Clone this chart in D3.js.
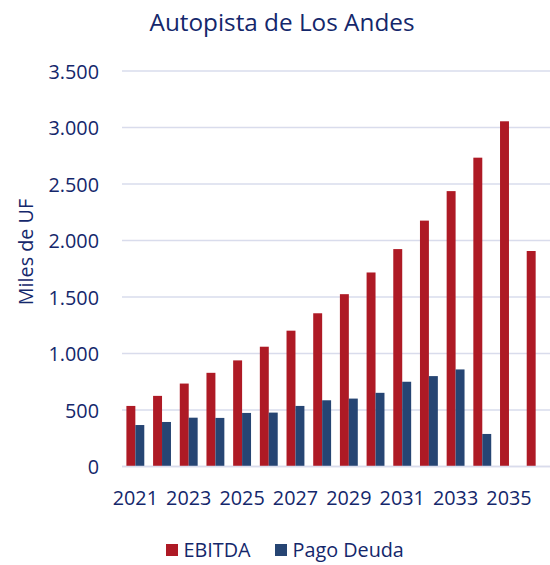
<!DOCTYPE html>
<html>
<head>
<meta charset="utf-8">
<script src="https://cdn.jsdelivr.net/npm/d3@7"></script>
<style>
  html, body { margin: 0; padding: 0; background: #fff; }
  svg { display: block; font-family: "Open Sans", "Noto Sans", sans-serif; }
</style>
</head>
<body>
<svg id="chart" width="550" height="565"></svg>
<script>
const years = ["2021","2022","2023","2024","2025","2026","2027","2028","2029","2030","2031","2032","2033","2034","2035","2036"];
const ebitda = [536, 625, 734, 829, 939, 1060, 1202, 1356, 1525, 1717, 1924, 2176, 2437, 2733, 3055, 1907];
const pagoDeuda = [367, 394, 432, 430, 474, 477, 536, 586, 601, 652, 750, 800, 859, 288, 0, 0];
const yTicks = [0, 500, 1000, 1500, 2000, 2500, 3000, 3500];
const seriesNames = ["EBITDA", "Pago Deuda"];
const seriesColors = ["#AE1A25", "#264573"];
const textColor = "#14276B";

const svg = d3.select("#chart");
const margin = { left: 122, right: 0, top: 71, bottom: 99 };
const W = 550, H = 565;

const x = d3.scaleBand().domain(years).range([margin.left, 549]).paddingInner(0.33).paddingOuter(0.165);
const xInner = d3.scaleBand().domain(seriesNames).range([0, x.bandwidth()]);
const y = d3.scaleLinear().domain([0, 3500]).range([466.5, 71]);

const fmt = v => d3.format(",")(v).replace(/,/g, ".");

// gridlines
svg.append("g").selectAll("line").data(yTicks).join("line")
  .attr("x1", margin.left).attr("x2", W)
  .attr("y1", d => y(d)).attr("y2", d => y(d))
  .attr("stroke", "#D9DCEC").attr("stroke-width", 1.5);

// y axis labels
const yAxis = d3.axisLeft(y).tickValues(yTicks).tickFormat(fmt).tickSize(0).tickPadding(0);
const yg = svg.append("g").attr("transform", "translate(99,0)").call(yAxis);
yg.select(".domain").remove();
yg.selectAll("text").attr("fill", textColor).attr("font-size", 19.8).attr("font-family", "Open Sans, Noto Sans, sans-serif").attr("dy", "0.36em");

// bars
const data = years.map((yr, i) => ({ year: yr, values: [ebitda[i], pagoDeuda[i]] }));
const groups = svg.append("g").selectAll("g").data(data).join("g")
  .attr("transform", d => `translate(${x(d.year)},0)`);
groups.selectAll("rect").data(d => d.values.map((v, j) => ({ name: seriesNames[j], v, j })))
  .join("rect")
  .filter(d => d.v > 0)
  .attr("x", d => xInner(d.name))
  .attr("width", xInner.bandwidth())
  .attr("y", d => y(d.v))
  .attr("height", d => y(0) - y(d.v))
  .attr("fill", d => seriesColors[d.j]);

// baseline
svg.append("line").attr("x1", margin.left).attr("x2", W).attr("y1", y(0)).attr("y2", y(0))
  .attr("stroke", "#D9DCEC").attr("stroke-width", 1.5);

// x axis labels (every other)
const xAxis = d3.axisBottom(x).tickValues(years.filter((d, i) => i % 2 === 0)).tickSize(0).tickPadding(0);
const xg = svg.append("g").attr("transform", "translate(0,505)").call(xAxis);
xg.select(".domain").remove();
xg.selectAll("text").attr("fill", textColor).attr("font-size", 19.8).attr("font-family", "Open Sans, Noto Sans, sans-serif").attr("dy", 0);

// title
svg.append("text").attr("x", 282).attr("y", 31).attr("text-anchor", "middle")
  .attr("fill", textColor).attr("font-size", 24.3).text("Autopista de Los Andes");

// y-axis title
svg.append("text").attr("transform", "translate(33,252) rotate(-90)").attr("text-anchor", "middle")
  .attr("fill", textColor).attr("font-size", 19.8).text("Miles de UF");

// legend
const legendX = [166, 275];
const lg = svg.append("g").selectAll("g").data(seriesNames).join("g")
  .attr("transform", (d, i) => `translate(${legendX[i]},544)`);
lg.append("rect").attr("width", 12).attr("height", 12).attr("fill", (d, i) => seriesColors[i]);
lg.append("text").attr("x", 17.5).attr("y", 13).attr("fill", textColor).attr("font-size", 19.8).text(d => d);
</script>
</body>
</html>
